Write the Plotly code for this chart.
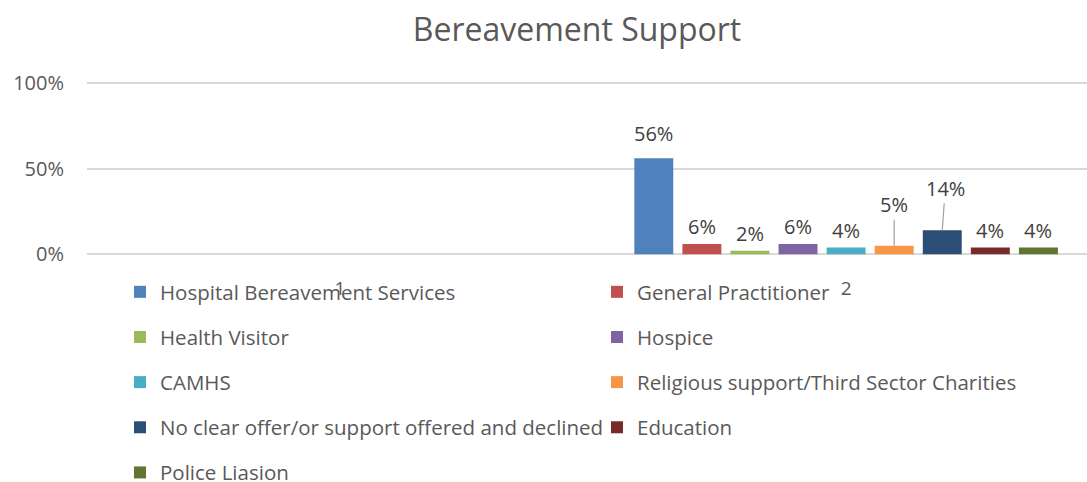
import plotly.graph_objects as go

# Source data
categories = ["1", "2"]
series_names = [
    "Hospital Bereavement Services",
    "General Practitioner",
    "Health Visitor",
    "Hospice",
    "CAMHS",
    "Religious support/Third Sector Charities",
    "No clear offer/or support offered and declined",
    "Education",
    "Police Liasion",
]
# share for category "2" (category "1" has no values)
series_values = [0.56, 0.06, 0.02, 0.06, 0.04, 0.05, 0.14, 0.04, 0.04]
series_colors = [
    "#4F81BD", "#C0504D", "#9BBB59", "#8064A2", "#4BACC6",
    "#F79646", "#2C4D75", "#772C2A", "#5F7530",
]
y_ticks = [0, 0.5, 1.0]
y_tick_labels = ["0%", "50%", "100%"]

W, H = 1087, 482
FONT = "Open Sans"
GREY = "#595959"
LABEL = "#404040"

BARGAP = 0.145
BARGROUPGAP = 0.19
n = len(series_names)

fig = go.Figure()
for i, (name, val, col) in enumerate(zip(series_names, series_values, series_colors)):
    fig.add_trace(go.Bar(
        x=categories,
        y=[None, val],
        name=name,
        marker=dict(color=col, line=dict(width=0)),
        legend="legend" if i % 2 == 0 else "legend2",
        legendgroup=name,
        hovertemplate="%{y:.0%}<extra>" + name + "</extra>",
    ))

# data labels: pixel offsets above the bar top, with leader lines where set
label_style = {
    "Hospital Bereavement Services": dict(ax=0, ay=-25, line=False),
    "Religious support/Third Sector Charities": dict(ax=0, ay=-41, line=True),
    "No clear offer/or support offered and declined": dict(ax=3, ay=-42, line=True),
}
slot = (1 - BARGAP) / n
annotations = []
for i, (name, val) in enumerate(zip(series_names, series_values)):
    xc = 1 + (i - (n - 1) / 2) * slot
    st = label_style.get(name, dict(ax=0, ay=-17, line=False))
    annotations.append(dict(
        x=xc, y=val, xref="x", yref="y",
        text=f"{val:.0%}",
        showarrow=True,
        arrowhead=0, arrowwidth=1.3,
        arrowcolor="#A6A6A6" if st["line"] else "rgba(0,0,0,0)",
        ax=st["ax"], ay=st["ay"], axref="pixel", ayref="pixel",
        standoff=0, startstandoff=0,
        font=dict(family=FONT, size=20, color=LABEL),
    ))

legend_common = dict(
    xref="container", yref="container",
    xanchor="left", yanchor="top",
    orientation="v", tracegroupgap=15.5,
    font=dict(family=FONT, size=20.5, color=GREY),
    bgcolor="rgba(0,0,0,0)",
)

fig.update_layout(
    width=W, height=H,
    margin=dict(l=87, r=0, t=81, b=226, autoexpand=False),
    paper_bgcolor="white", plot_bgcolor="white",
    barmode="group", bargap=BARGAP, bargroupgap=BARGROUPGAP,
    title=dict(
        text="Bereavement Support",
        x=577 / W, xref="container", xanchor="center",
        y=1 - 30 / H, yref="container", yanchor="middle",
        font=dict(family=FONT, size=32, color=GREY),
    ),
    font=dict(family=FONT, color=GREY),
    xaxis=dict(
        type="category",
        range=[-0.5, 1.476],
        showgrid=False, zeroline=False, showline=False,
        ticks="", ticklabelstandoff=19,
        tickfont=dict(family=FONT, size=19, color=GREY),
    ),
    yaxis=dict(
        range=[-0.01, 1.01],
        tickvals=y_ticks, ticktext=y_tick_labels,
        showgrid=True, gridcolor="#D9D9D9", gridwidth=1.5,
        zeroline=False, showline=False, ticks="",
        ticklabelstandoff=22,
        tickfont=dict(family=FONT, size=20, color=GREY),
    ),
    legend=dict(legend_common, x=120 / W, y=1 - 272 / H),
    legend2=dict(legend_common, x=597 / W, y=1 - 272 / H),
    annotations=annotations,
    showlegend=True,
)

fig.write_html("out.html")
